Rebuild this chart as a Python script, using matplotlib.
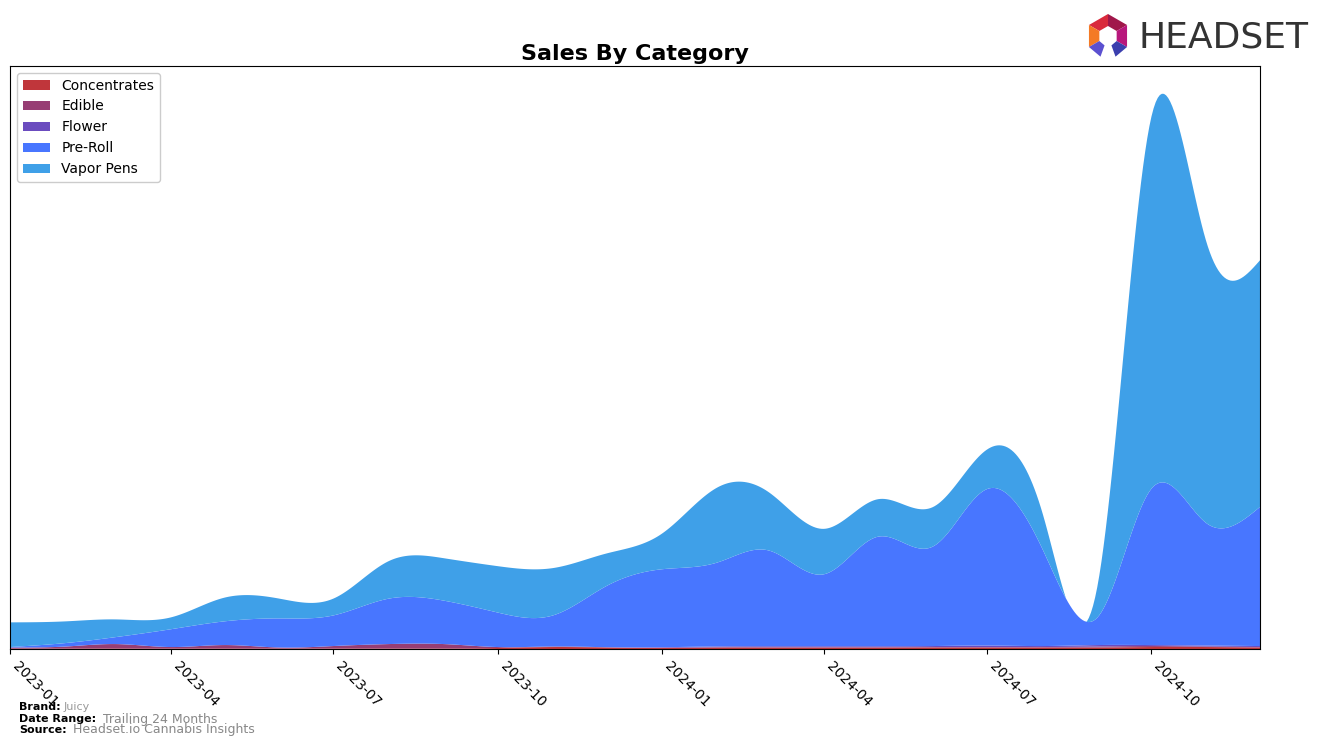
import numpy as np
import pandas as pd
import matplotlib
matplotlib.use("Agg")
import matplotlib.pyplot as plt
import matplotlib.dates as mdates
from matplotlib.patches import Polygon

# =========================================================
# DATA (monthly, arbitrary sales units)
# =========================================================

months = pd.date_range("2023-01-01", "2024-12-01", freq="MS")

categories = ["Concentrates", "Edible", "Flower", "Pre-Roll", "Vapor Pens"]

concentrates = [0.5, 0.5, 0.5, 0.5, 0.5, 0.5, 0.5, 0.5, 0.5, 1.0, 2.0, 1.5,
                1.0, 1.5, 1.5, 1.5, 1.5, 1.5, 1.5, 1.5, 1.5, 2.0, 2.0, 1.5]
edible = [1.0, 2.0, 4.5, 1.5, 3.5, 1.0, 2.5, 4.5, 4.5, 1.0, 0.5, 0.3,
          0.3, 0.3, 0.3, 0.3, 0.3, 0.5, 0.5, 0.5, 1.0, 1.0, 0.5, 0.5]
flower = [0, 0, 0, 0, 0, 0, 0, 0, 0, 0, 0, 0,
          0.5, 0.8, 1.0, 1.0, 1.0, 1.0, 1.5, 1.0, 1.5, 1.0, 1.0, 1.0]
pre_roll = [0.5, 3.5, 7, 18, 24, 29.5, 31, 46, 44, 35, 31.5, 62,
            79, 85, 97, 73, 111, 101, 158.5, 99, 28, 158, 124, 141]
vapor_pens = [25, 22, 18, 12, 24, 20, 17, 38, 43, 47, 48, 33,
              36, 76, 59, 46, 38, 40, 40, 37, 32, 376, 285, 250]

colors = ["#c0363b", "#973e74", "#6b4cbf", "#4876ff", "#3fa0e8"]

# =========================================================
# SMOOTHING (natural cubic spline, numpy only)
# =========================================================

def cubic_spline(x, y, xs):
    x = np.asarray(x, float)
    y = np.asarray(y, float)
    n = len(x)
    h = np.diff(x)
    A = np.zeros((n, n))
    b = np.zeros(n)
    A[0, 0] = 1
    A[-1, -1] = 1
    for i in range(1, n - 1):
        A[i, i - 1] = h[i - 1]
        A[i, i] = 2 * (h[i - 1] + h[i])
        A[i, i + 1] = h[i]
        b[i] = 6 * ((y[i + 1] - y[i]) / h[i] - (y[i] - y[i - 1]) / h[i - 1])
    M = np.linalg.solve(A, b)
    idx = np.clip(np.searchsorted(x, xs) - 1, 0, n - 2)
    x0, x1 = x[idx], x[idx + 1]
    hh = x1 - x0
    return (M[idx] * (x1 - xs) ** 3 / (6 * hh)
            + M[idx + 1] * (xs - x0) ** 3 / (6 * hh)
            + (y[idx] / hh - M[idx] * hh / 6) * (x1 - xs)
            + (y[idx + 1] / hh - M[idx + 1] * hh / 6) * (xs - x0))

xnum = mdates.date2num(months)
xs = np.linspace(xnum[0], xnum[-1], 600)

series = [concentrates, edible, flower, pre_roll, vapor_pens]
smooth = [np.clip(cubic_spline(xnum, s, xs), 0, None) for s in series]

# =========================================================
# PLOT
# =========================================================

W, H = 1324, 746
fig = plt.figure(figsize=(W / 100, H / 100), dpi=100)
ax = fig.add_axes([10 / W, 1 - 649 / H, 1250 / W, (649 - 66) / H])

ax.stackplot(xs, *smooth, labels=categories, colors=colors, linewidth=0)

ax.set_xlim(xnum[0], xnum[-1])
ax.set_ylim(bottom=0)
ax.set_yticks([])
ax.xaxis.set_major_locator(mdates.MonthLocator(bymonth=[1, 4, 7, 10]))
ax.xaxis.set_major_formatter(mdates.DateFormatter("%Y-%m"))
plt.setp(ax.get_xticklabels(), rotation=-45, ha="left", fontsize=10)

ax.set_title("Sales By Category", fontsize=16, fontweight="bold", pad=4)
ax.legend(loc="upper left", fontsize=10, framealpha=1)

# =========================================================
# FOOTER
# =========================================================

fig.text(19 / W, 1 - 707 / H, "Brand:", fontsize=8, fontweight="bold", va="center")
fig.text(64 / W, 1 - 707 / H, "Juicy", fontsize=8, color="#999999", va="center")
fig.text(19 / W, 1 - 719 / H, "Date Range:", fontsize=8, fontweight="bold", va="center")
fig.text(103 / W, 1 - 719 / H, "Trailing 24 Months", fontsize=9, color="#888888", va="center")
fig.text(19 / W, 1 - 730 / H, "Source:", fontsize=8, fontweight="bold", va="center")
fig.text(73 / W, 1 - 730 / H, "Headset.io Cannabis Insights", fontsize=9, color="#888888", va="center")

# =========================================================
# LOGO
# =========================================================

cx, cy = 1108, 36
r_out, r_in = 22, 10
segments = [
    (90, 150, "#d92a3c"),
    (30, 90, "#a0174a"),
    (150, 210, "#f47a25"),
    (-30, 30, "#b8177c"),
    (210, 250, "#5b50d0"),
    (290, 330, "#3b3fae"),
]
for a0, a1, col in segments:
    ang = np.radians([a0, a1])
    pts = [(cx + r_out * np.cos(a), cy - r_out * np.sin(a)) for a in ang]
    pts += [(cx + r_in * np.cos(a), cy - r_in * np.sin(a)) for a in ang[::-1]]
    pts = [(px / W, 1 - py / H) for px, py in pts]
    fig.add_artist(Polygon(pts, closed=True, facecolor=col, edgecolor="none",
                           transform=fig.transFigure))

fig.text(1138 / W, 1 - 37 / H, "HEADSET", fontsize=26, color="#333333", va="center")

fig.savefig("out.png", dpi=100)
